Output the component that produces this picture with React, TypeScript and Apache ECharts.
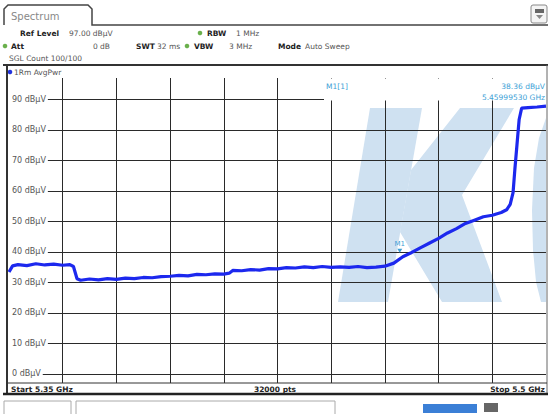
import React, { useEffect, useRef } from "react";
import * as echarts from "echarts";

// Trace 1 (AvgPwr)
const freqGHz = [
  5.35, 5.351, 5.3525, 5.355, 5.3575, 5.36, 5.3625, 5.365, 5.367, 5.368,
  5.369, 5.37, 5.3725, 5.375, 5.3775, 5.38, 5.3825, 5.385, 5.3875, 5.39,
  5.3925, 5.395, 5.3975, 5.4, 5.4025, 5.405, 5.4075, 5.41, 5.4115, 5.4125,
  5.415, 5.4175, 5.42, 5.4225, 5.425, 5.4275, 5.43, 5.4325, 5.435, 5.4375,
  5.44, 5.4425, 5.445, 5.4475, 5.45, 5.4525, 5.455, 5.4575, 5.46, 5.4625,
  5.465, 5.4675, 5.47, 5.4725, 5.475, 5.4775, 5.48, 5.4825, 5.485, 5.4875,
  5.489, 5.49, 5.4908, 5.4913, 5.4919, 5.4925, 5.4932, 5.495, 5.4975, 5.5,
];
const levelDbuv = [
  33.4, 35.4, 35.8, 35.5, 36.1, 35.7, 36.0, 35.6, 35.8, 35.2,
  31.2, 30.7, 31.1, 30.8, 31.2, 31.0, 31.4, 31.2, 31.6, 31.5,
  31.9, 32.0, 32.3, 32.1, 32.6, 32.5, 32.8, 32.7, 33.0, 33.9,
  33.8, 34.2, 34.0, 34.5, 34.4, 34.8, 34.7, 35.1, 34.8, 35.2,
  34.9, 35.1, 34.9, 35.2, 34.8, 35.0, 35.3, 36.3, 38.4, 39.8,
  41.4, 42.9, 44.4, 46.2, 47.6, 49.3, 50.4, 51.5, 52.0, 52.9,
  53.8, 55.6, 59.4, 67.0, 75.2, 83.4, 87.1, 87.3, 87.5, 87.8,
];

const yTicks = [0, 10, 20, 30, 40, 50, 60, 70, 80, 90];
const xDivisions = [5.365, 5.38, 5.395, 5.41, 5.425, 5.44, 5.455, 5.47, 5.485];
const xStart = 5.35;
const xStop = 5.5;
const yBottom = -3;
const refLevel = 97;

const markerFreq = 5.4599953;
const markerLevel = 38.36;

const FONT = "'DejaVu Sans', sans-serif";
const MK = "#3d9fd6";
const WM = "#cfe1f1";

function txt(text: string, x: number, y: number, opts: any = {}) {
  return {
    type: "text",
    z: 20,
    silent: true,
    style: {
      text,
      x,
      y,
      fill: opts.fill || "#555",
      fontSize: opts.size || 7.5,
      fontWeight: opts.bold ? "bold" : "normal",
      fontFamily: FONT,
      align: opts.align || "left",
      verticalAlign: "middle",
    },
  };
}

function ln(x1: number, y1: number, x2: number, y2: number, w = 1, c = "#333") {
  return {
    type: "line",
    z: 20,
    silent: true,
    shape: { x1, y1, x2, y2 },
    style: { stroke: c, lineWidth: w },
  };
}

export default function App() {
  const ref = useRef<HTMLDivElement>(null);
  useEffect(() => {
    if (!ref.current) return;
    const chart = echarts.init(ref.current, null, { renderer: "svg" });
    const data = freqGHz.map((f, i) => [f, levelDbuv[i]]);
    const dot = (x: number, y: number, c: string) => ({
      type: "circle",
      z: 20,
      silent: true,
      shape: { cx: x, cy: y, r: 2.3 },
      style: { fill: c },
    });
    chart.setOption({
      animation: false,
      backgroundColor: "#fff",
      grid: { left: 9, right: 4, top: 78, bottom: 31, show: false },
      xAxis: {
        type: "value",
        min: xStart,
        max: xStop,
        axisLine: { show: false },
        axisTick: { show: false, customValues: xDivisions },
        axisLabel: { show: false, customValues: xDivisions },
        splitLine: { show: true, lineStyle: { color: "#2a2a2a", width: 1 } },
      },
      yAxis: {
        type: "value",
        min: yBottom,
        max: refLevel,
        axisLine: { show: false },
        axisTick: { show: false, customValues: yTicks },
        axisLabel: {
          inside: true,
          customValues: yTicks,
          formatter: (v: number) => `${v} dBµV`,
          color: "#555",
          fontSize: 8,
          fontFamily: FONT,
          margin: 0,
          backgroundColor: "#fff",
          padding: [1, 2, 1, 3],
        },
        splitLine: { show: true, lineStyle: { color: "#2a2a2a", width: 1 } },
      },
      series: [
        {
          type: "line",
          data,
          showSymbol: false,
          z: 3,
          lineStyle: { color: "#1c28ee", width: 3.2 },
          markPoint: {
            silent: true,
            data: [{ coord: [markerFreq, markerLevel] }],
            symbol: "triangle",
            symbolSize: [5, 4],
            symbolRotate: 180,
            symbolOffset: [-3, -6],
            itemStyle: { color: MK },
            label: {
              show: true,
              formatter: "M1",
              position: "top",
              distance: 1,
              color: MK,
              fontSize: 7,
              fontFamily: FONT,
            },
          },
        },
      ],
      graphic: [
        // watermark
        {
          type: "polygon",
          z: -10,
          silent: true,
          shape: { points: [[370, 108], [422, 108], [388, 302], [338, 302]] },
          style: { fill: WM },
        },
        {
          type: "polygon",
          z: -10,
          silent: true,
          shape: {
            points: [[460, 108], [514, 108], [462, 195], [502, 302], [442, 302], [400, 232], [411, 170]],
          },
          style: { fill: WM },
        },
        {
          type: "polygon",
          z: -10,
          silent: true,
          shape: {
            points: [[546, 118], [539, 138], [534, 168], [532, 210], [533, 250], [536, 282], [541, 302], [546, 302]],
          },
          style: { fill: WM },
        },
        // marker info box
        {
          type: "rect",
          z: 15,
          silent: true,
          shape: { x: 324, y: 78.5, width: 222, height: 22 },
          style: { fill: "#fff" },
        },
        txt("M1[1]", 326, 86, { fill: MK }),
        txt("38.36 dBµV", 545, 86, { fill: MK, align: "right" }),
        txt("5.45999530 GHz", 545, 97, { fill: MK, align: "right" }),
        // tab
        {
          type: "polyline",
          z: 20,
          silent: true,
          shape: { points: [[4, 25], [4, 9], [8, 5], [88, 5], [92, 9], [92, 25], [548, 25]] },
          style: { stroke: "#444", lineWidth: 1.5, fill: null },
        },
        txt("Spectrum", 11, 16, { fill: "#888", size: 10 }),
        {
          type: "rect",
          z: 20,
          silent: true,
          shape: { x: 531, y: 5, width: 16, height: 18, r: 2 },
          style: { fill: "#f4f4f4", stroke: "#888", lineWidth: 1 },
        },
        {
          type: "rect",
          z: 21,
          silent: true,
          shape: { x: 535, y: 9, width: 9, height: 4 },
          style: { fill: "#666" },
        },
        {
          type: "polygon",
          z: 21,
          silent: true,
          shape: { points: [[536, 15], [543, 15], [539.5, 19]] },
          style: { fill: "#888" },
        },
        // header info
        txt("Ref Level", 20, 33, { bold: true, fill: "#222" }),
        txt("97.00 dBµV", 69, 33),
        dot(200, 33, "#6ab04c"),
        txt("RBW", 207, 33, { bold: true, fill: "#222" }),
        txt("1 MHz", 236, 33),
        dot(5, 46, "#6ab04c"),
        txt("Att", 11, 46, { bold: true, fill: "#222" }),
        txt("0 dB", 110, 46, { align: "right" }),
        txt("SWT", 136, 46, { bold: true, fill: "#222" }),
        txt("32 ms", 157, 46),
        dot(187, 46, "#6ab04c"),
        txt("VBW", 194, 46, { bold: true, fill: "#222" }),
        txt("3 MHz", 229, 46),
        txt("Mode", 278, 46, { bold: true, fill: "#222" }),
        txt("Auto Sweep", 305, 46),
        txt("SGL Count 100/100", 9, 58),
        // trace row
        ln(3, 65, 548, 65, 2, "#333"),
        dot(10, 72, "#2233dd"),
        txt("1Rm AvgPwr", 14, 72),
        // frame
        ln(7, 65, 7, 394, 2, "#333"),
        ln(547, 65, 547, 394, 1, "#666"),
        ln(8, 383, 547, 383, 1, "#333"),
        ln(3, 394, 548, 394, 2.5, "#222"),
        txt("Start 5.35 GHz", 11, 389, { bold: true, fill: "#222" }),
        txt("32000 pts", 275, 389, { bold: true, fill: "#222", align: "center" }),
        txt("Stop 5.5 GHz", 545, 389, { bold: true, fill: "#222", align: "right" }),
        // status bar
        {
          type: "rect",
          z: 20,
          silent: true,
          shape: { x: 4, y: 401, width: 67, height: 16 },
          style: { fill: "#fff", stroke: "#aaa", lineWidth: 1 },
        },
        {
          type: "rect",
          z: 20,
          silent: true,
          shape: { x: 76, y: 401, width: 259, height: 16 },
          style: { fill: "#fff", stroke: "#aaa", lineWidth: 1 },
        },
        {
          type: "rect",
          z: 20,
          silent: true,
          shape: { x: 423, y: 404, width: 54, height: 9 },
          style: { fill: "#3b7fd6" },
        },
        {
          type: "rect",
          z: 20,
          silent: true,
          shape: { x: 484, y: 403, width: 14, height: 9 },
          style: { fill: "#666" },
        },
      ],
    });
    return () => chart.dispose();
  }, []);
  return <div ref={ref} style={{ width: 550, height: 414, position: "absolute", left: 0, top: 0 }} />;
}
